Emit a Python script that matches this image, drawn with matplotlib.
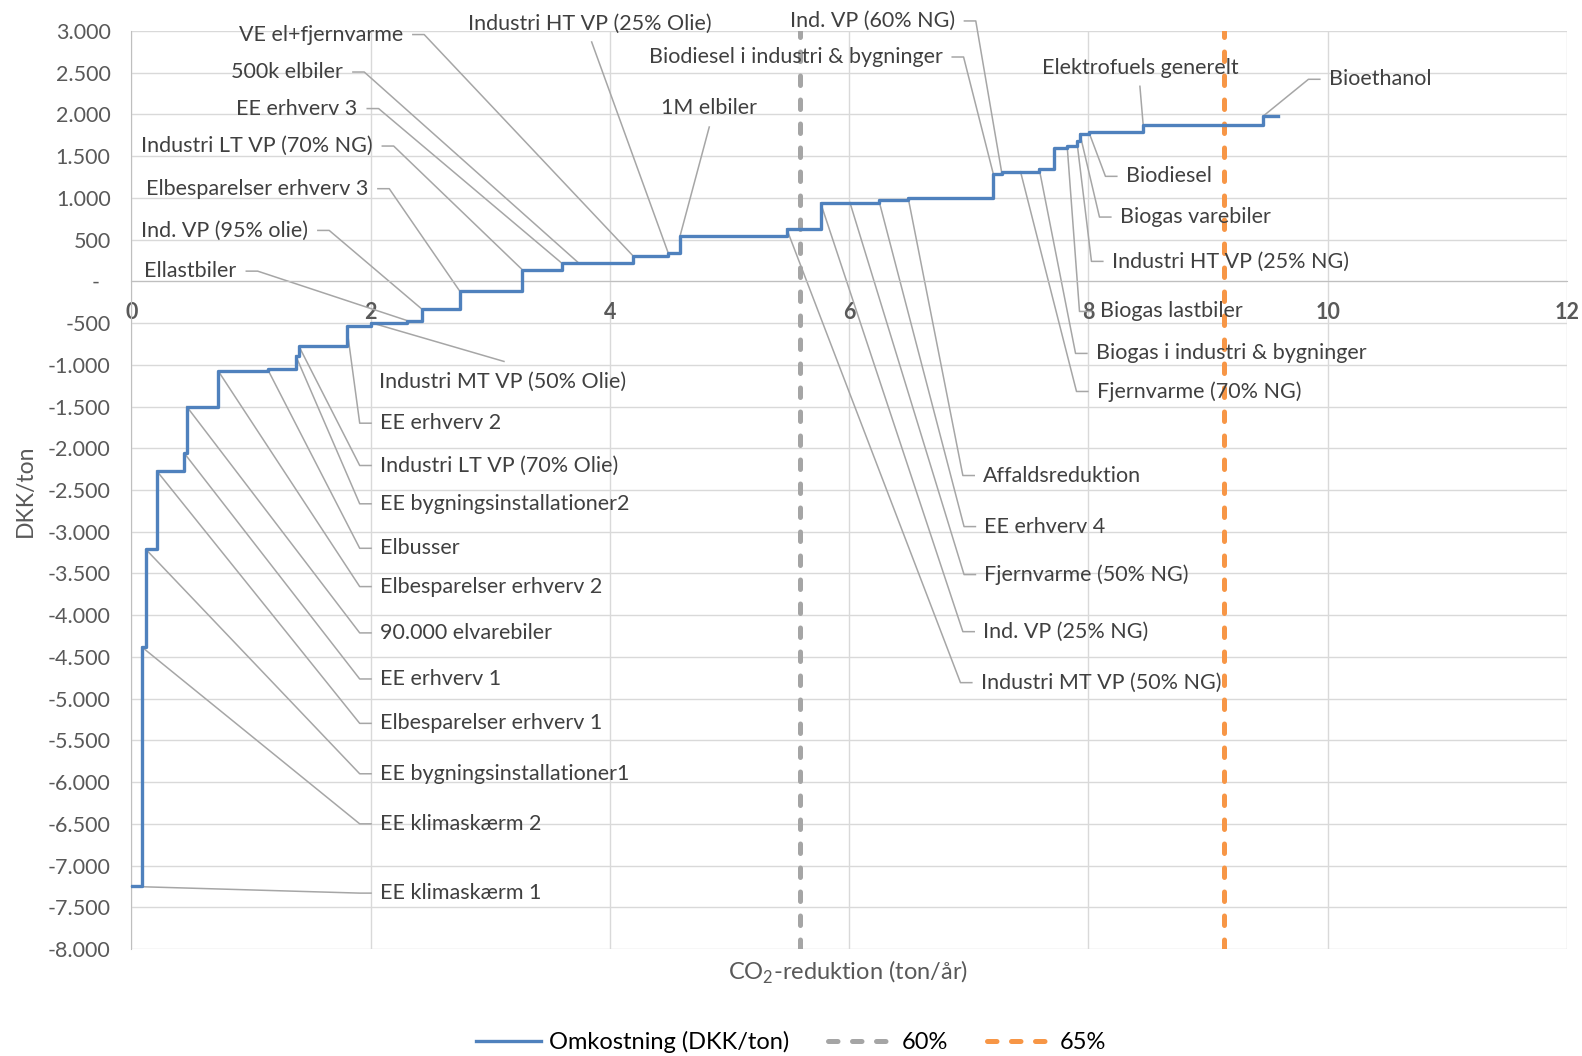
import numpy as np
import matplotlib.pyplot as plt
from matplotlib.ticker import FuncFormatter, MultipleLocator

plt.rcParams['font.family'] = ['Lato', 'DejaVu Sans']
plt.rcParams['mathtext.fontset'] = 'custom'
plt.rcParams['mathtext.rm'] = 'Lato'

# tiltag i rækkefølge (tom tekst = punkt uden label)
tiltag = [
    'EE klimaskærm 1', 'EE klimaskærm 2', 'EE bygningsinstallationer1',
    'Elbesparelser erhverv 1', 'EE erhverv 1', '90.000 elvarebiler',
    'Elbesparelser erhverv 2', 'Elbusser', 'EE bygningsinstallationer2',
    'Industri LT VP (70% Olie)', 'EE erhverv 2', 'Industri MT VP (50% Olie)',
    'Ellastbiler', 'Ind. VP (95% olie)', 'Elbesparelser erhverv 3',
    'Industri LT VP (70% NG)', 'EE erhverv 3', '500k elbiler',
    'VE el+fjernvarme', 'Industri HT VP (25% Olie)', '1M elbiler',
    'Industri MT VP (50% NG)', 'Ind. VP (25% NG)', 'Fjernvarme (50% NG)',
    'EE erhverv 4', 'Affaldsreduktion', 'Biodiesel i industri & bygninger',
    'Ind. VP (60% NG)', 'Fjernvarme (70% NG)', 'Biogas i industri & bygninger',
    '', 'Biogas lastbiler', 'Industri HT VP (25% NG)', 'Biogas varebiler',
    'Biodiesel', 'Elektrofuels generelt', 'Bioethanol',
]
# CO2-reduktion pr. tiltag (ton/år)
reduktion = [
    0.086, 0.034, 0.091, 0.231, 0.020, 0.264, 0.413, 0.234, 0.028, 0.398,
    0.204, 0.303, 0.120, 0.320, 0.521, 0.329, 0.139, 0.455, 0.297, 0.098,
    0.892, 0.284, 0.245, 0.242, 0.245, 0.711, 0.070, 0.158, 0.156, 0.123,
    0.111, 0.081, 0.025, 0.075, 0.454, 1.003, 0.126,
]
# omkostning (DKK/ton)
omkostning = [
    -7250, -4380, -3210, -2270, -2060, -1500, -1075, -1055, -890, -780,
    -540, -495, -470, -330, -120, 140, 220, 225, 310, 340,
    540, 630, 940, 945, 970, 1000, 1290, 1310, 1315, 1350,
    1600, 1620, 1680, 1770, 1790, 1880, 1980,
]
maal_60 = 5.59
maal_65 = 9.13

# label-placering: (x, y, justering)
label_pos = {
    'EE klimaskærm 1': (2.078, -7330, 'left'),
    'EE klimaskærm 2': (2.078, -6500, 'left'),
    'EE bygningsinstallationer1': (2.078, -5900, 'left'),
    'Elbesparelser erhverv 1': (2.078, -5296, 'left'),
    'EE erhverv 1': (2.078, -4764, 'left'),
    '90.000 elvarebiler': (2.078, -4212, 'left'),
    'Elbesparelser erhverv 2': (2.078, -3657, 'left'),
    'Elbusser': (2.078, -3198, 'left'),
    'EE bygningsinstallationer2': (2.078, -2665, 'left'),
    'Industri LT VP (70% Olie)': (2.078, -2206, 'left'),
    'EE erhverv 2': (2.078, -1699, 'left'),
    'Industri MT VP (50% Olie)': (2.069, -1199, 'left'),
    'Ellastbiler': (0.880, 123, 'right'),
    'Ind. VP (95% olie)': (1.478, 611, 'right'),
    'Elbesparelser erhverv 3': (1.980, 1111, 'right'),
    'Industri LT VP (70% NG)': (2.017, 1622, 'right'),
    'EE erhverv 3': (1.891, 2071, 'right'),
    '500k elbiler': (1.771, 2509, 'right'),
    'VE el+fjernvarme': (2.272, 2958, 'right'),
    'Industri HT VP (25% Olie)': (3.833, 3087, 'center'),
    '1M elbiler': (4.827, 2074, 'center'),
    'Industri MT VP (50% NG)': (7.10, -4808, 'left'),
    'Ind. VP (25% NG)': (7.12, -4197, 'left'),
    'Fjernvarme (50% NG)': (7.13, -3513, 'left'),
    'EE erhverv 4': (7.13, -2938, 'left'),
    'Affaldsreduktion': (7.12, -2326, 'left'),
    'Biodiesel i industri & bygninger': (6.781, 2689, 'right'),
    'Ind. VP (60% NG)': (6.883, 3121, 'right'),
    'Fjernvarme (70% NG)': (8.070, -1319, 'left'),
    'Biogas i industri & bygninger': (8.062, -863, 'left'),
    'Biogas lastbiler': (8.095, -360, 'left'),
    'Industri HT VP (25% NG)': (8.195, 240, 'left'),
    'Biogas varebiler': (8.262, 771, 'left'),
    'Biodiesel': (8.312, 1259, 'left'),
    'Elektrofuels generelt': (8.430, 2559, 'center'),
    'Bioethanol': (10.009, 2422, 'left'),
}
# labels med lige ledelinje til et punkt
lige_linje = {
    'Industri MT VP (50% Olie)': (3.114, -959),
    'Industri HT VP (25% Olie)': (3.847, 2869),
    '1M elbiler': (4.830, 1850),
    'Elektrofuels generelt': (8.430, 2338),
}

start = np.concatenate([[0], np.cumsum(reduktion)[:-1]])
slut = np.sum(reduktion)

fig = plt.figure(figsize=(15.82, 10.56), dpi=100)
ax = fig.add_axes([0.0831, 0.1013, 0.9074, 0.8693])

blaa = '#4F81BD'
graa = '#A5A5A5'
orange = '#F79646'
leder = '#A6A6A6'
tekst = '#404040'

ax.step(np.append(start, slut), np.append(omkostning, omkostning[-1]),
        where='post', color=blaa, lw=2.4, label='Omkostning (DKK/ton)', zorder=4)
ax.plot([maal_60, maal_60], [-8000, 3000], color=graa, lw=3.6,
        ls=(0, (1.9, 2.9)), dash_capstyle='round', label='60%', zorder=3)
ax.plot([maal_65, maal_65], [-8000, 3000], color=orange, lw=3.6,
        ls=(0, (1.9, 2.9)), dash_capstyle='round', label='65%', zorder=3)

# labels og ledelinjer
for navn, x0, y0 in zip(tiltag, start, omkostning):
    if not navn:
        continue
    tx, ty, ha = label_pos[navn]
    if navn in lige_linje:
        lx, ly = lige_linje[navn]
        xs, ys = [x0, lx], [y0, ly]
    elif ha == 'left':
        xs, ys = [x0, tx - 0.17, tx - 0.075], [y0, ty, ty]
    else:
        xs, ys = [x0, tx + 0.175, tx + 0.08], [y0, ty, ty]
    ax.plot(xs, ys, color=leder, lw=1.1, zorder=2, clip_on=False)
    ax.text(tx, ty, navn, ha=ha, va='center', fontsize=15.5, color=tekst,
            zorder=5, clip_on=False)

ax.set_xlim(0, 12)
ax.set_ylim(-8000, 3000)
ax.xaxis.set_major_locator(MultipleLocator(2))
ax.yaxis.set_major_locator(MultipleLocator(500))


def dk_format(v, pos):
    if v == 0:
        return '-  '
    return f'{int(v):,}'.replace(',', '.')


ax.yaxis.set_major_formatter(FuncFormatter(dk_format))
ax.grid(True, color='#D9D9D9', lw=1.0, zorder=0)
ax.set_axisbelow(True)
for side in ['top', 'right']:
    ax.spines[side].set_visible(False)
ax.spines['left'].set_color('#BFBFBF')
ax.spines['bottom'].set_color('#BFBFBF')
ax.spines['bottom'].set_position(('data', 0))
ax.tick_params(axis='y', length=0, pad=15, labelsize=15.5, labelcolor='#595959')
ax.tick_params(axis='x', length=0, pad=15, labelsize=15.5, labelcolor='#595959')
for lbl in ax.get_xticklabels():
    lbl.set_fontweight('bold')

fig.text(25 / 1582, 0.535, 'DKK/ton', rotation=90, ha='center', va='center',
         fontsize=16.5, color='#595959')
fig.text(0.536, 0.0795, r'CO$_\mathrm{2}$-reduktion (ton/år)', ha='center', va='center',
         fontsize=17, color='#595959')

leg = fig.legend(loc='center', bbox_to_anchor=(0.5, 1 - 1042 / 1056), ncol=3, frameon=False,
                 fontsize=17, handlelength=2.75, columnspacing=1.65, handletextpad=0.35)
for t in leg.get_texts():
    t.set_color('#000000')

fig.savefig('out.png', dpi=100)
